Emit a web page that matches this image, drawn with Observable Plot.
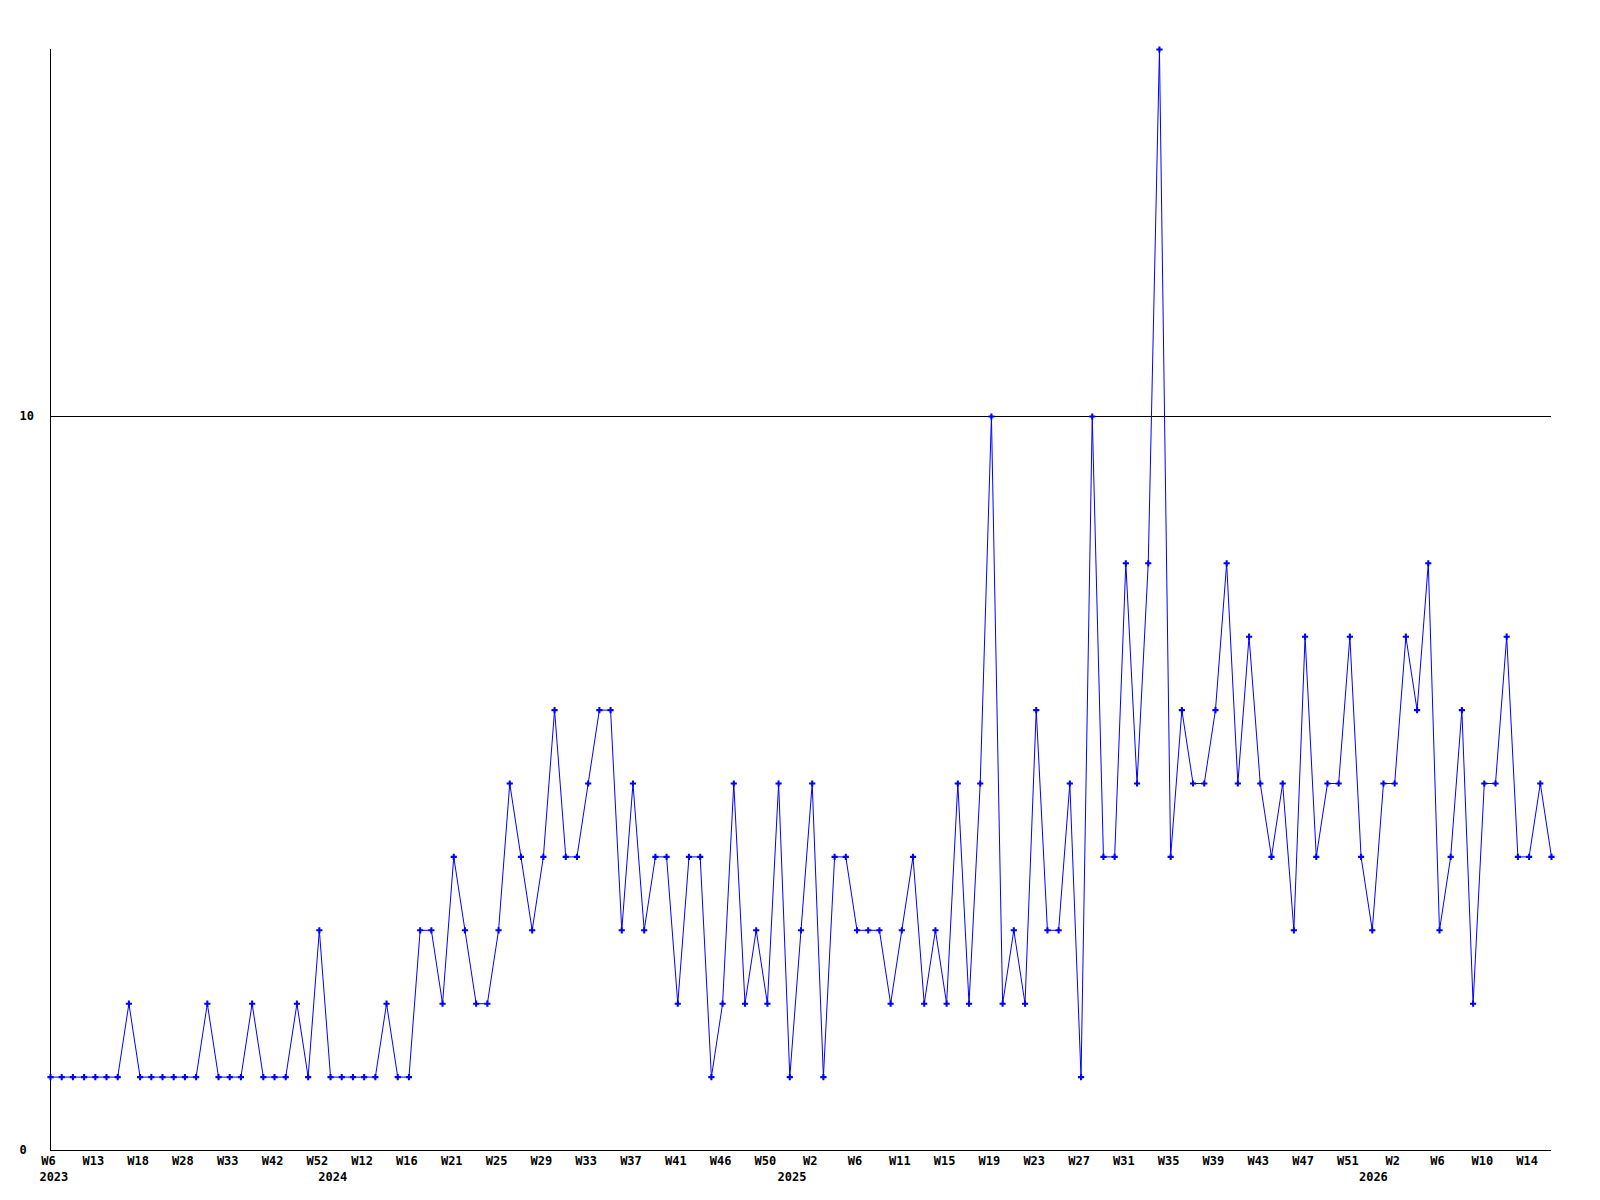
<!DOCTYPE html>
<html>
<head>
<meta charset="utf-8">
<script src="https://cdn.jsdelivr.net/npm/d3@7"></script>
<script src="https://cdn.jsdelivr.net/npm/@observablehq/plot@0.6"></script>
<style>
  html, body { margin: 0; padding: 0; background: #fff; }
  #chart svg { display: block; }
</style>
</head>
<body>
<div id="chart"></div>
<script>
// Weekly counts (one point per reported week, in order)
const values = [
  1,1,1,1,1,1,1,2,1,1,
  1,1,1,1,2,1,1,1,2,1,
  1,1,2,1,3,1,1,1,1,1,
  2,1,1,3,3,2,4,3,2,2,
  3,5,4,3,4,6,4,4,5,6,
  6,3,5,3,4,4,2,4,4,1,
  2,5,2,3,2,5,1,3,5,1,
  4,4,3,3,3,2,3,4,2,3,
  2,5,2,5,10,2,3,2,6,3,
  3,5,1,10,4,4,8,5,8,15,
  4,6,5,5,6,8,5,7,5,4,
  5,3,7,4,5,5,7,4,3,5,
  5,7,6,8,3,4,6,2,5,5,
  7,4,4,5,4
];

// Week tick labels (every 4th point)
const weekTickIndex = [0,4,8,12,16,20,24,28,32,36,40,44,48,52,56,60,64,68,72,76,80,84,88,92,96,100,104,108,112,116,120,124,128,132];
const weekTickLabels = ["W6","W13","W18","W28","W33","W42","W52","W12","W16","W21","W25","W29","W33","W37","W41","W46","W50","W2","W6","W11","W15","W19","W23","W27","W31","W35","W39","W43","W47","W51","W2","W6","W10","W14"];

// Year labels and the point where each year starts
const yearIndex = [0.3, 25.2, 66.2, 118.1];
const yearLabels = ["2023","2024","2025","2026"];

// Y axis ticks
const yTicks = [0, 10];

const data = values.map((v, i) => ({i, v}));
const weekTicks = weekTickIndex.map((i, k) => ({i, label: weekTickLabels[k]}));
const years = yearIndex.map((i, k) => ({i, label: yearLabels[k]}));

const font = "'DejaVu Sans Mono', 'Liberation Mono', monospace";

const chart = Plot.plot({
  width: 1600,
  height: 1200,
  marginLeft: 50,
  marginRight: 49,
  marginTop: 49,
  marginBottom: 50,
  style: {fontFamily: font, fontSize: "12px", fontWeight: "bold", background: "#fff", overflow: "visible"},
  x: {type: "linear", domain: [0, values.length - 1], axis: null},
  y: {domain: [0, 15], axis: null},
  marks: [
    Plot.ruleY(yTicks, {stroke: "#000", strokeWidth: 1}),
    Plot.ruleX([0], {stroke: "#000", strokeWidth: 1}),
    Plot.text(yTicks, {x: 0, y: d => d, text: d => String(d), textAnchor: "start", dx: -31, fill: "#000", fontWeight: "bold"}),
    Plot.line(data, {x: "i", y: "v", stroke: "#0000ff", strokeWidth: 1}),
    Plot.dot(data, {x: "i", y: "v", symbol: "cross", r: 2.6, fill: "#0000ff", stroke: "none"}),
    Plot.text(weekTicks, {x: "i", y: 0, text: "label", dy: 11, dx: -2, fill: "#000", fontWeight: "bold"}),
    Plot.text(years, {x: "i", y: 0, text: "label", dy: 27, fill: "#000", fontWeight: "bold"})
  ]
});
document.getElementById("chart").appendChild(chart);
</script>
</body>
</html>
